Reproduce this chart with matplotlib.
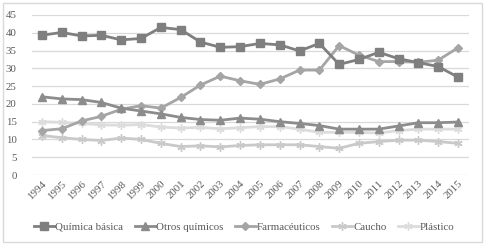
import matplotlib
matplotlib.use("Agg")
import matplotlib.pyplot as plt
from matplotlib.patches import Rectangle

years = [str(y) for y in range(1994, 2016)]
quimica_basica = [39.3, 40.1, 39.1, 39.3, 38.0, 38.4, 41.5, 40.9, 37.4, 35.9, 36.1, 37.0,
                  36.6, 34.9, 37.0, 31.1, 32.5, 34.5, 32.7, 31.6, 30.5, 27.5]
otros_quimicos = [22.0, 21.4, 21.2, 20.4, 18.8, 18.0, 17.2, 16.2, 15.6, 15.4, 16.0, 15.7,
                  15.0, 14.5, 13.9, 12.9, 12.9, 12.9, 13.8, 14.7, 14.7, 14.9]
farmaceuticos = [12.5, 13.0, 15.2, 16.5, 18.5, 19.5, 18.8, 21.8, 25.3, 27.8, 26.5, 25.5,
                 27.0, 29.5, 29.5, 36.4, 33.7, 31.9, 31.9, 31.7, 32.3, 35.8]
caucho = [11.1, 10.5, 10.0, 9.7, 10.4, 10.0, 8.9, 8.0, 8.2, 7.9, 8.3, 8.5,
          8.5, 8.5, 8.0, 7.5, 8.9, 9.4, 9.8, 9.8, 9.4, 8.9]
plastico = [15.0, 14.8, 14.5, 14.1, 14.0, 14.2, 13.5, 13.2, 13.4, 13.0, 13.3, 13.6,
            13.6, 12.9, 12.0, 12.0, 12.0, 11.8, 12.5, 12.9, 12.9, 12.9]
series_names = ["Química básica", "Otros químicos", "Farmacéuticos", "Caucho", "Plástico"]
yticks = [0, 5, 10, 15, 20, 25, 30, 35, 40, 45]

plt.rcParams['font.family'] = ['Liberation Serif', 'DejaVu Serif']

fig = plt.figure(figsize=(4.85, 2.45), dpi=100)
ax = fig.add_axes([0.066, 0.2857, 0.901, 0.6531])

x = list(range(len(years)))
styles = [
    dict(color='#7f7f7f', marker='s', ms=5.2, lw=2.0),
    dict(color='#8c8c8c', marker='^', ms=5.8, lw=2.0),
    dict(color='#a5a5a5', marker='D', ms=4.3, lw=2.0),
    dict(color='#c9c9c9', marker=(6, 2, 0), ms=6, lw=2.0, mew=1.0),
    dict(color='#dcdcdc', marker=(6, 2, 0), ms=6, lw=2.0, mew=1.0),
]
data = [quimica_basica, otros_quimicos, farmaceuticos, caucho, plastico]
order = [4, 3, 2, 1, 0]
lines = {}
for i in order:
    st = styles[i]
    ln, = ax.plot(x, data[i], color=st['color'], lw=st['lw'], marker=st['marker'],
                  ms=st['ms'], mew=st.get('mew', 1.0), mec=st['color'], mfc=st['color'],
                  label=series_names[i], zorder=3)
    lines[i] = ln

ax.set_xlim(-0.5, 21.55)
ax.set_ylim(0, 45)
ax.set_yticks(yticks)
ax.set_xticks(x)
ax.set_xticklabels(years, rotation=45, ha='right', rotation_mode='anchor', fontsize=7.8, color='#595959')
ax.tick_params(axis='y', labelsize=7.8, colors='#595959', length=0, pad=11)
ax.tick_params(axis='x', length=0, pad=3)
ax.grid(axis='y', color='#d9d9d9', lw=0.9)
ax.set_axisbelow(True)
for s in ax.spines.values():
    s.set_visible(False)

handles = [lines[i] for i in range(5)]
fig.legend(handles, series_names, loc='center', bbox_to_anchor=(0.503, 0.073), ncol=5,
           frameon=False, fontsize=7.8, handlelength=1.9, handletextpad=0.1,
           columnspacing=1.05, labelcolor='#595959')

fig.patches.append(Rectangle((0.006, 0.012), 0.988, 0.976, transform=fig.transFigure,
                             fill=False, ec='#d9d9d9', lw=1.0))

fig.savefig('out.png', dpi=100, facecolor='white')
